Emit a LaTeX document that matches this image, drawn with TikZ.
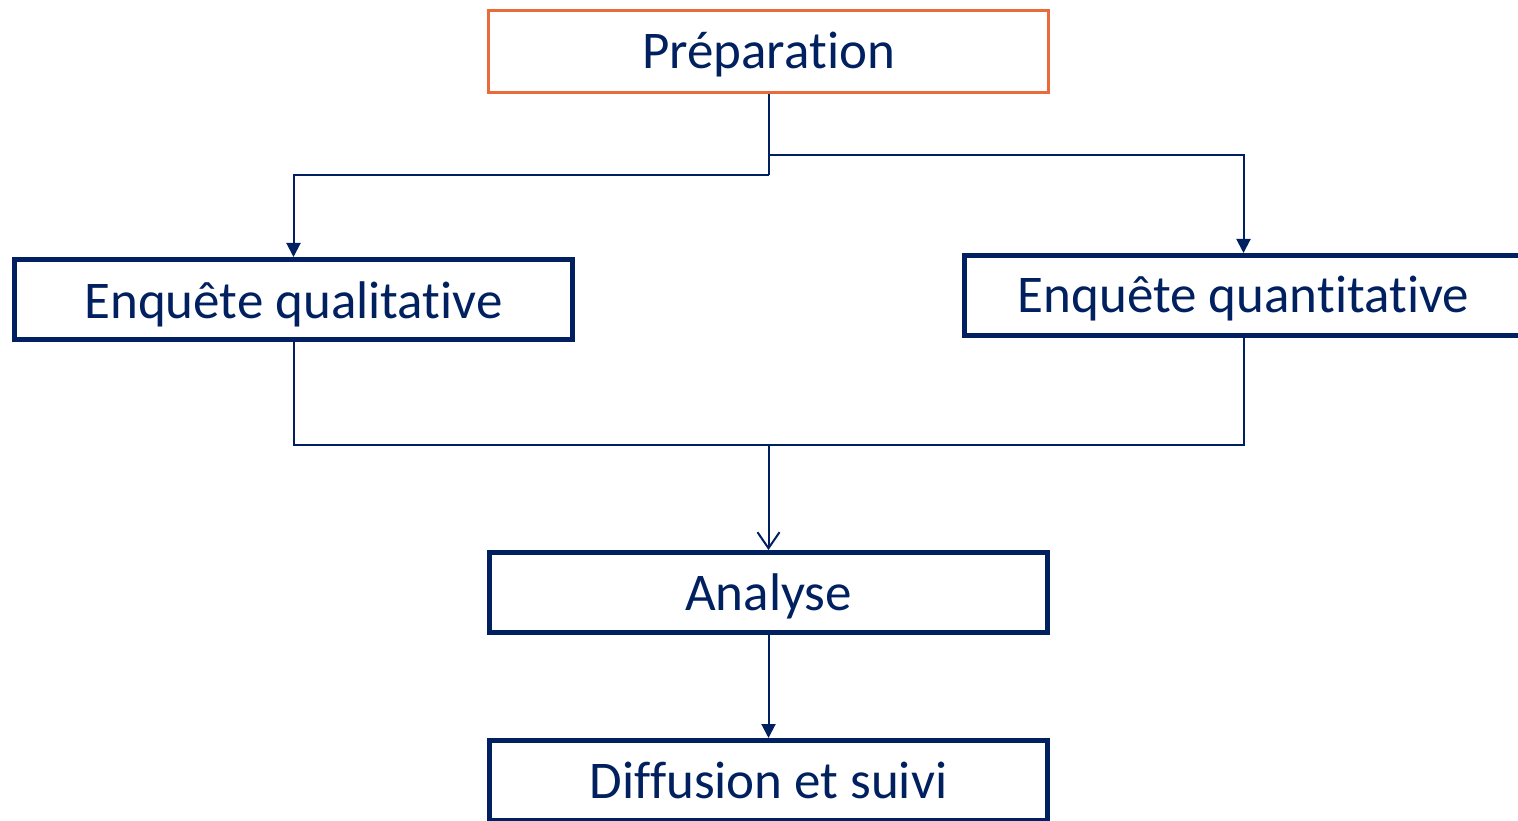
\documentclass[tikz,border=0pt]{standalone}
\usepackage{fontspec}
\setmainfont{Carlito}[Ligatures={NoCommon}]
\usetikzlibrary{arrows.meta}
\definecolor{navy}{HTML}{002060}
\definecolor{orng}{HTML}{EA6A3A}
\begin{document}
\begin{tikzpicture}[x=1pt,y=-1pt,
  box/.style={draw=navy,line width=5pt,rectangle,minimum width=558pt,minimum height=80pt,inner sep=0pt,text=navy,font=\fontsize{53}{60}\selectfont,text height=35pt,text depth=0pt},
  prepbox/.style={box,draw=orng,line width=3pt,minimum width=560pt,minimum height=82pt},
  conn/.style={draw=navy,line width=2pt},
  tri/.style={-{Triangle[width=14pt,length=14pt]}},
  barb/.style={-{Straight Barb[width=22pt,length=16pt,line width=2pt]}}]
\useasboundingbox (0,0) rectangle (1518,821);
\clip (0,0) rectangle (1518,821);
\fill[white] (0,0) rectangle (1518,821);
\node[prepbox,text height=34pt] (prep) at (768.5,51.5) {Préparation};
\node[box,text height=38pt] (qual) at (293.5,299.5) {Enquête qualitative};
\node[box,text height=34pt] (quant) at (1243.5,295.5) {Enquête quantitative};
\node[box] (ana) at (768.5,592.5) {Analyse};
\node[box,text height=35pt] (diff) at (768.5,780.5) {Diffusion et suivi};
\coordinate (j1) at (768.5,175);
\coordinate (j2) at (768.5,155);
\coordinate (j3) at (768.5,445);
\draw[conn] (prep.south) -- (j1);
\draw[conn,tri] (j1) -| (qual.north);
\draw[conn,tri] (j2) -| (quant.north);
\draw[conn] (qual.south) |- (j3);
\draw[conn] (quant.south) |- (j3);
\draw[conn,barb] (j3) -- (ana.north);
\draw[conn,tri] (ana.south) -- (diff.north);
\end{tikzpicture}
\end{document}
